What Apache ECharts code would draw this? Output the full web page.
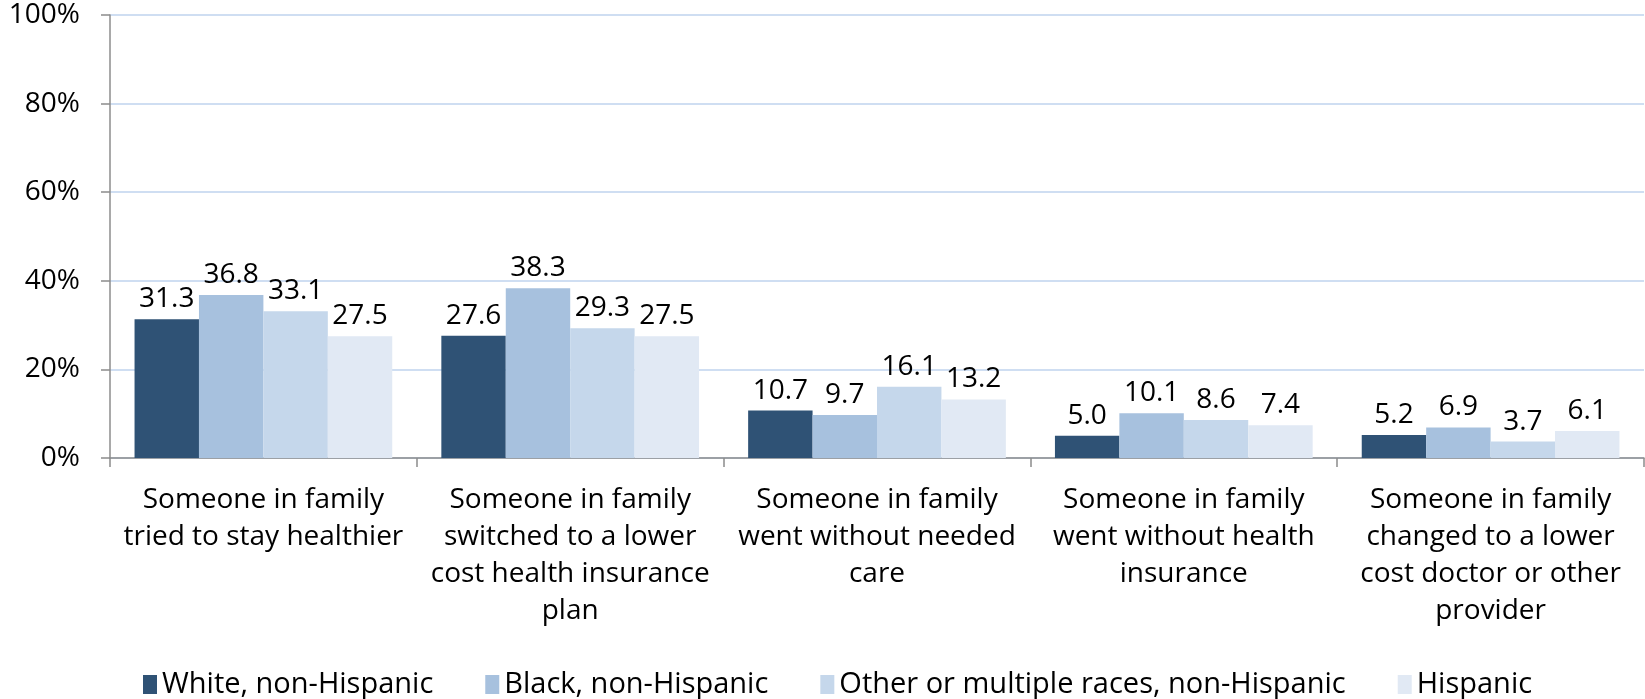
<!DOCTYPE html>
<html>
<head>
<meta charset="utf-8">
<script src="https://cdn.jsdelivr.net/npm/echarts@6/dist/echarts.min.js"></script>
<style>
html,body{margin:0;padding:0;background:#fff;}
#chart{width:1645px;height:699px;}
</style>
</head>
<body>
<div id="chart"></div>
<script>
const categories = [
  "Someone in family\ntried to stay healthier",
  "Someone in family\nswitched to a lower\ncost health insurance\nplan",
  "Someone in family\nwent without needed\ncare",
  "Someone in family\nwent without health\ninsurance",
  "Someone in family\nchanged to a lower\ncost doctor or other\nprovider"
];
const seriesNames = [
  "White, non-Hispanic",
  "Black, non-Hispanic",
  "Other or multiple races, non-Hispanic",
  "Hispanic"
];
const whiteValues = [31.3, 27.6, 10.7, 5.0, 5.2];
const blackValues = [36.8, 38.3, 9.7, 10.1, 6.9];
const otherValues = [33.1, 29.3, 16.1, 8.6, 3.7];
const hispanicValues = [27.5, 27.5, 13.2, 7.4, 6.1];
const yTicks = [0, 20, 40, 60, 80, 100];

const colors = ["#2F5275", "#A7C1DE", "#C5D7EB", "#E1E9F4"];
const allValues = [whiteValues, blackValues, otherValues, hispanicValues];
const FONT = "'Open Sans', sans-serif";

const chart = echarts.init(document.getElementById('chart'), null, {renderer: 'canvas'});
const option = {
  animation: false,
  backgroundColor: '#ffffff',
  color: colors,
  grid: {left: 110, right: 1, top: 15, bottom: 241, containLabel: false},
  legend: {
    data: seriesNames,
    left: 138,
    top: 665,
    itemWidth: 14,
    itemHeight: 19,
    itemGap: 52,
    icon: 'rect',
    textStyle: {fontFamily: FONT, fontSize: 29, color: '#000'}
  },
  xAxis: {
    type: 'category',
    data: categories,
    boundaryGap: true,
    axisLine: {show: true, lineStyle: {color: '#8C8C8C', width: 1.5}},
    axisTick: {show: true, alignWithLabel: false, length: 9, lineStyle: {color: '#8C8C8C', width: 1.5}},
    axisLabel: {
      interval: 0,
      margin: 24,
      fontFamily: FONT,
      fontSize: 28,
      lineHeight: 37,
      color: '#000',
      align: 'center'
    }
  },
  yAxis: {
    type: 'value',
    min: yTicks[0],
    max: yTicks[yTicks.length - 1],
    interval: yTicks[1] - yTicks[0],
    axisLine: {show: true, lineStyle: {color: '#8C8C8C', width: 1.5}},
    axisTick: {show: true, length: 9, lineStyle: {color: '#8C8C8C', width: 1.5}},
    splitLine: {show: true, lineStyle: {color: '#BFD3EE', width: 1.5}},
    axisLabel: {
      margin: 30,
      fontFamily: FONT,
      fontSize: 28,
      color: '#000',
      formatter: '{value}%'
    }
  },
  series: seriesNames.map((name, i) => ({
    name: name,
    type: 'bar',
    data: allValues[i],
    barGap: '0%',
    barCategoryGap: '16%',
    itemStyle: {color: colors[i]},
    label: {
      show: true,
      position: 'top',
      distance: 6,
      fontFamily: FONT,
      fontSize: 28,
      color: '#000',
      formatter: p => p.value.toFixed(1)
    }
  }))
};
chart.setOption(option);
</script>
</body>
</html>
